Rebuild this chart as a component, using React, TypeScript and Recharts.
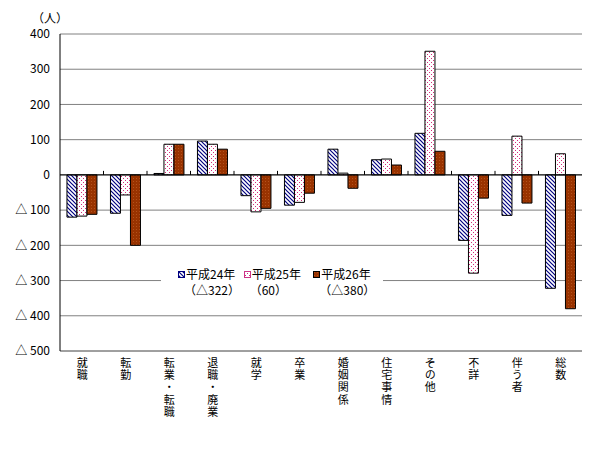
import {
  BarChart,
  Bar,
  XAxis,
  YAxis,
  CartesianGrid,
  ReferenceLine,
} from "recharts";

const categories = [
  "就職",
  "転勤",
  "転業・転職",
  "退職・廃業",
  "就学",
  "卒業",
  "婚姻関係",
  "住宅事情",
  "その他",
  "不詳",
  "伴う者",
  "総数",
];
const h24 = [-120, -109, 4, 96, -59, -86, 73, 43, 118, -186, -115, -322];
const h25 = [-117, -57, 87, 87, -105, -78, 5, 45, 351, -279, 110, 60];
const h26 = [-112, -200, 87, 73, -95, -52, -38, 28, 67, -66, -80, -380];
const seriesNames = ["平成24年", "平成25年", "平成26年"];
const yTicks = [400, 300, 200, 100, 0, -100, -200, -300, -400, -500];

const seriesKeys = ["h24", "h25", "h26"];
const fills = ["url(#hatchBlue)", "url(#dotPink)", "url(#dotBrown)"];
const swatchBorders = ["#000080", "#cc3388", "#000"];

const data = categories.map((name, i) => ({
  name,
  h24: h24[i],
  h25: h25[i],
  h26: h26[i],
}));

// 総数 の値を凡例の括弧書きにする
const totals = [h24, h25, h26].map((s) => s[s.length - 1]);
const fmt = (v: number) => (v < 0 ? `△${-v}` : `${v}`);

const FONT = "'Noto Sans CJK JP', 'Noto Sans', sans-serif";

// 縦書きのカテゴリ名
function VerticalTick({ x, y, payload }: any) {
  return (
    <text
      x={x + 0.5}
      y={y + 6}
      fontSize={11}
      fill="#000"
      fontFamily={FONT}
      style={{ writingMode: "vertical-rl", letterSpacing: 1.4 }}
    >
      {payload.value}
    </text>
  );
}

function ZeroLine(props: any) {
  const { x1, x2, y1 } = props;
  const step = (x2 - x1) / categories.length;
  return (
    <g>
      <line x1={x1} x2={x2} y1={y1} y2={y1} stroke="#000" strokeWidth={1} />
      {categories.slice(1).map((_, i) => (
        <line
          key={i}
          x1={x1 + step * (i + 1)}
          x2={x1 + step * (i + 1)}
          y1={y1}
          y2={y1 - 4}
          stroke="#000"
        />
      ))}
    </g>
  );
}

function LegendBox() {
  return (
    <div
      style={{
        position: "absolute",
        left: 161,
        top: 263,
        width: 222,
        display: "flex",
        background: "#fff",
        padding: "3px 0 3px 17px",
        boxSizing: "border-box",
        fontFamily: FONT,
        fontSize: 12,
        lineHeight: "16px",
        color: "#000",
      }}
    >
      {seriesNames.map((n, i) => (
        <div key={n} style={{ width: i === 0 ? 66 : 70 }}>
          <div style={{ display: "flex", alignItems: "center" }}>
            <svg width={7} height={7} style={{ marginRight: 1 }}>
              <rect
                x={0.5}
                y={0.5}
                width={6}
                height={6}
                fill={fills[i]}
                stroke={swatchBorders[i]}
              />
            </svg>
            <span>{n}</span>
          </div>
          <div style={{ paddingLeft: 6 }}>（{fmt(totals[i])}）</div>
        </div>
      ))}
    </div>
  );
}

export default function App() {
  return (
    <div
      style={{
        position: "absolute",
        left: 0,
        top: 0,
        width: 600,
        height: 450,
        background: "#fff",
        fontFamily: FONT,
      }}
    >
      <div
        style={{
          position: "absolute",
          left: 32,
          top: 9,
          fontSize: 12,
          fontFamily: FONT,
        }}
      >
        （人）
      </div>
      <BarChart
        width={600}
        height={450}
        data={data}
        margin={{ top: 34, right: 18, bottom: 0, left: 0 }}
        barCategoryGap="16%"
        barGap={0}
      >
        <defs>
          <pattern id="hatchBlue" patternUnits="userSpaceOnUse" width={4} height={4}>
            <rect width={4} height={4} fill="#fff" />
            <path d="M-1,-1 L5,5 M-1,3 L1,5 M3,-1 L5,1" stroke="#000080" strokeWidth={1.2} />
          </pattern>
          <pattern id="dotPink" patternUnits="userSpaceOnUse" width={4} height={4}>
            <rect width={4} height={4} fill="#fff" />
            <rect x={1} y={0} width={1} height={1} fill="#d42a7a" />
            <rect x={3} y={2} width={1} height={1} fill="#d42a7a" />
          </pattern>
          <pattern id="dotBrown" patternUnits="userSpaceOnUse" width={3} height={3}>
            <rect width={3} height={3} fill="#993300" />
            <rect x={1} y={1} width={1} height={1} fill="#b4521c" />
          </pattern>
        </defs>
        <CartesianGrid
          yAxisId="left"
          vertical={false}
          stroke="#808080"
          horizontalValues={yTicks}
        />
        <XAxis
          dataKey="name"
          interval={0}
          tick={<VerticalTick />}
          tickLine={false}
          tickSize={0}
          tickMargin={0}
          axisLine={{ stroke: "#808080" }}
          height={99}
        />
        <YAxis
          yAxisId="left"
          domain={[-500, 400]}
          ticks={yTicks}
          interval={0}
          tickFormatter={(v: number) => (v < 0 ? `△ ${-v}` : `${v}`)}
          tick={{ fontSize: 12, fill: "#000" }}
          tickLine={false}
          tickSize={0}
          tickMargin={10}
          axisLine={{ stroke: "#000" }}
          width={60}
        />
        <YAxis
          yAxisId="right"
          orientation="right"
          domain={[-500, 400]}
          tick={false}
          tickLine={false}
          axisLine={{ stroke: "#808080" }}
          width={0}
        />
        <ReferenceLine yAxisId="left" y={0} shape={<ZeroLine />} />
        {seriesKeys.map((k, i) => (
          <Bar
            key={k}
            yAxisId="left"
            dataKey={k}
            name={seriesNames[i]}
            fill={fills[i]}
            stroke="#000"
            strokeWidth={1}
            isAnimationActive={false}
          />
        ))}
      </BarChart>
      <LegendBox />
    </div>
  );
}
